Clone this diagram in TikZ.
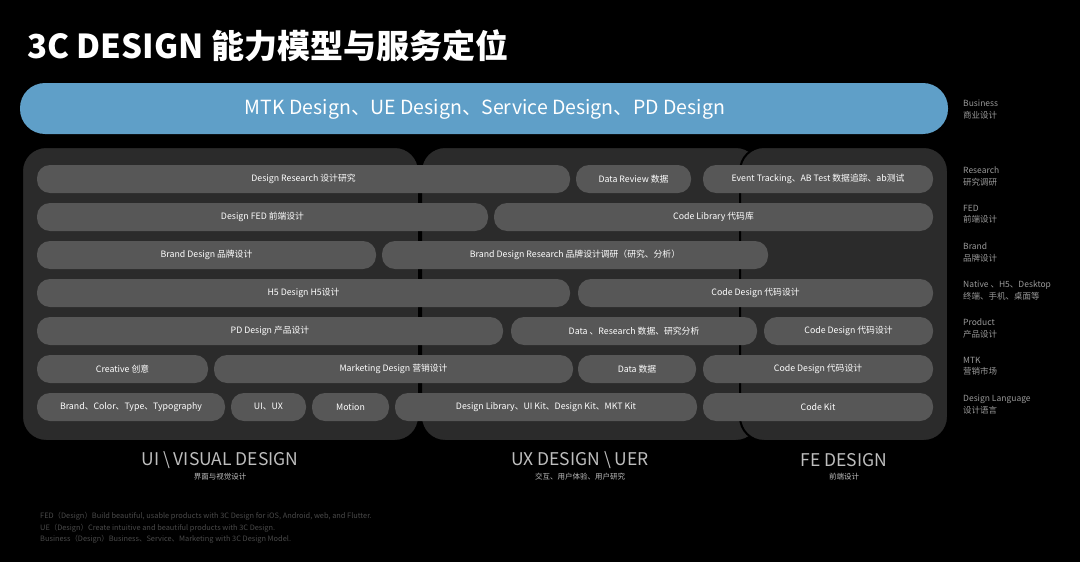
\documentclass[tikz,border=0pt]{standalone}
\usepackage{fontspec}
\setmainfont{Noto Sans CJK SC}
\begin{document}
\begin{tikzpicture}[x=1pt,y=-1pt,
  panel/.style={fill=panelc,draw=black,line width=2pt,rounded corners=24pt},
  pill/.style={fill=pillc,rounded corners=13pt},
  ptext/.style={text=white,font=\fontsize{8.8}{10}\selectfont},
  rlab/.style={text=rlabc,font=\fontsize{8.5}{11.5}\selectfont,anchor=north west,align=left,inner sep=0pt},
  clab/.style={text=clabc,font=\fontsize{17.5}{19}\selectfont},
  csub/.style={text=clabc,font=\fontsize{7.5}{9}\selectfont}]
\definecolor{panelc}{HTML}{2B2B2B}
\definecolor{pillc}{HTML}{575757}
\definecolor{bannerc}{HTML}{5F9FC8}
\definecolor{rlabc}{HTML}{9A9A9A}
\definecolor{clabc}{HTML}{BEBEBE}
\definecolor{footc}{HTML}{4A4A4A}
\fill[black] (0,0) rectangle (1080,562);
\useasboundingbox (0,0) rectangle (1080,562);
\node[anchor=west,text=white,font=\fontsize{33}{35}\selectfont\bfseries,inner sep=0pt] (title) at (27,46) {3C DESIGN 能力模型与服务定位};
\fill[bannerc,rounded corners=25pt] (20,83) rectangle (948,134);
\node[text=white,font=\fontsize{19.5}{21}\selectfont] (banner) at (485,109) {MTK Design、UE Design、Service Design、PD Design};
\draw[panel] (22,147) rectangle (419,441);
\draw[panel] (421,147) rectangle (760,441);
\draw[panel] (740,147) rectangle (948,441);
\newcommand\pl[5]{\fill[pill] (#1,#3-14) rectangle (#2,#3+14); \node[ptext] (#5) at ({(#1+#2)/2},#3) {#4};}
\pl{37}{570}{179}{Design Research 设计研究}{p11}
\pl{576}{691}{179}{Data Review 数据}{p12}
\pl{703}{933}{179}{Event Tracking、AB Test 数据追踪、ab测试}{p13}
\pl{37}{488}{217}{Design FED 前端设计}{p21}
\pl{494}{933}{217}{Code Library 代码库}{p22}
\pl{37}{376}{255}{Brand Design 品牌设计}{p31}
\pl{382}{768}{255}{Brand Design Research 品牌设计调研（研究、分析）}{p32}
\pl{37}{570}{293}{H5 Design H5设计}{p41}
\pl{578}{933}{293}{Code Design 代码设计}{p42}
\pl{37}{503}{331}{PD Design 产品设计}{p51}
\pl{511}{757}{331}{Data 、Research  数据、研究分析}{p52}
\pl{764}{933}{331}{Code Design  代码设计}{p53}
\pl{37}{208}{369}{Creative 创意}{p61}
\pl{214}{573}{369}{Marketing Design 营销设计}{p62}
\pl{578}{696}{369}{Data 数据}{p63}
\pl{703}{933}{369}{Code Design 代码设计}{p64}
\pl{37}{225}{407}{Brand、Color、Type、Typography}{p71}
\pl{231}{306}{407}{UI、UX}{p72}
\pl{312}{389}{407}{Motion}{p73}
\pl{395}{697}{407}{Design Library、UI Kit、Design Kit、MKT Kit}{p74}
\pl{703}{933}{407}{Code Kit}{p75}
\node[rlab] (r0) at (963,100) {Business\\商业设计};
\node[rlab] (r1) at (963,167) {Research\\研究调研};
\node[rlab] (r2) at (963,205) {FED\\前端设计};
\node[rlab] (r3) at (963,243) {Brand\\品牌设计};
\node[rlab] (r4) at (963,281) {Native 、H5、Desktop\\终端、手机、桌面等};
\node[rlab] (r5) at (963,319) {Product\\产品设计};
\node[rlab] (r6) at (963,357) {MTK\\营销市场};
\node[rlab] (r7) at (963,395) {Design Language\\设计语言};
\node[clab] (c1) at (220,460) {UI \textbackslash{} VISUAL DESIGN};
\node[csub] (c1s) at (220,477) {界面与视觉设计};
\node[clab] (c2) at (580,460) {UX DESIGN \textbackslash{} UER};
\node[csub] (c2s) at (580,477) {交互、用户体验、用户研究};
\node[clab] (c3) at (844,460) {FE DESIGN};
\node[csub] (c3s) at (844,477) {前端设计};
\node[anchor=north west,inner sep=0pt,align=left,text=footc,font=\fontsize{7.4}{11.5}\selectfont] (foot) at (40,512) {FED（Design）Build beautiful, usable products with 3C Design for iOS, Android, web, and Flutter.\\UE（Design）Create intuitive and beautiful products with 3C Design.\\Business（Design）Business、Service、Marketing with 3C Design Model.};
\end{tikzpicture}
\end{document}
